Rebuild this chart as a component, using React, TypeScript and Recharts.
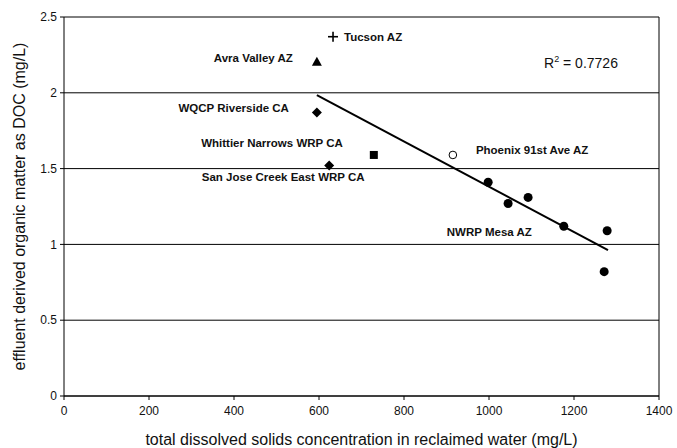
import React from 'react';
import {
  ScatterChart,
  Scatter,
  XAxis,
  YAxis,
  CartesianGrid,
  ReferenceLine,
  LabelList,
} from 'recharts';

// total dissolved solids (mg/L) vs effluent DOC (mg/L)
const tucson = [{ tds: 633, doc: 2.37 }];
const avraValley = [{ tds: 595, doc: 2.205 }];
const wqcpRiverside = [{ tds: 595, doc: 1.87 }];
const whittierNarrows = [{ tds: 729, doc: 1.59 }];
const sanJoseCreek = [{ tds: 624, doc: 1.52 }];
const phoenix91st = [{ tds: 915, doc: 1.59 }];
const mesaTds = [998, 1045, 1092, 1176, 1278, 1271];
const mesaDoc = [1.41, 1.27, 1.31, 1.12, 1.09, 0.82];
const trendTds = [595, 1280];
const trendDoc = [1.985, 0.963];

const xTicks = [0, 200, 400, 600, 800, 1000, 1200, 1400];
const yTicks = [0, 0.5, 1, 1.5, 2, 2.5];
const rSquared = '0.7726';

const mesa = mesaTds.map((tds, i) => ({ tds, doc: mesaDoc[i] }));
const trend = trendTds.map((tds, i) => ({ tds, doc: trendDoc[i] }));

const FONT = '"Liberation Sans", Arial, sans-serif';

type Kind = 'plus' | 'triangle' | 'diamond' | 'square' | 'circle' | 'open';

const marker = (kind: Kind) => (props: any) => {
  const { cx, cy } = props;
  if (cx == null || cy == null) return <g />;
  switch (kind) {
    case 'plus':
      return (
        <g stroke="#000" strokeWidth={1.6}>
          <line x1={cx - 5} y1={cy} x2={cx + 5} y2={cy} />
          <line x1={cx} y1={cy - 5} x2={cx} y2={cy + 5} />
        </g>
      );
    case 'triangle':
      return <polygon points={`${cx},${cy - 5} ${cx + 5},${cy + 4} ${cx - 5},${cy + 4}`} fill="#000" />;
    case 'diamond':
      return <polygon points={`${cx},${cy - 5} ${cx + 5},${cy} ${cx},${cy + 5} ${cx - 5},${cy}`} fill="#000" />;
    case 'square':
      return <rect x={cx - 4} y={cy - 4} width={8} height={8} fill="#000" />;
    case 'open':
      return <circle cx={cx} cy={cy} r={3.8} fill="#fff" stroke="#000" strokeWidth={1} />;
    default:
      return <circle cx={cx} cy={cy} r={4.5} fill="#000" />;
  }
};

const siteLabel = (text: string, dx: number, dy: number, anchor: string, index = 0) => (props: any) => {
  const { x, y, width, height } = props;
  if (props.index !== index) return null;
  const cx = x + (width || 0) / 2;
  const cy = y + (height || 0) / 2;
  return (
    <text
      x={cx + dx}
      y={cy + dy}
      textAnchor={anchor}
      dominantBaseline="central"
      fontFamily={FONT}
      fontSize={11.5}
      fontWeight="bold"
      fill="#111"
    >
      {text}
    </text>
  );
};

const App: React.FC = () => {
  return (
    <div style={{ position: 'absolute', left: 0, top: 0, width: 677, height: 448, background: '#fff' }}>
      <ScatterChart width={677} height={448} margin={{ top: 17, right: 18, bottom: 0, left: 0 }}>
        <CartesianGrid vertical={false} stroke="#000" strokeWidth={1} />
        <XAxis
          type="number"
          dataKey="tds"
          domain={[0, 1400]}
          ticks={xTicks}
          height={52}
          tickSize={4}
          tickMargin={6}
          stroke="#000"
          tick={{ fill: '#111', fontSize: 12, fontFamily: FONT }}
          label={{
            value: 'total dissolved solids concentration in reclaimed water (mg/L)',
            position: 'insideBottom',
            offset: 3,
            style: { fill: '#111', fontSize: 16, fontFamily: FONT },
          }}
        />
        <YAxis
          type="number"
          dataKey="doc"
          domain={[0, 2.5]}
          ticks={yTicks}
          width={64}
          tickSize={4}
          tickMargin={3}
          stroke="#000"
          tick={{ fill: '#111', fontSize: 12, fontFamily: FONT }}
          label={{
            value: 'effluent derived organic matter as DOC (mg/L)',
            angle: -90,
            position: 'insideLeft',
            offset: 19,
            style: { textAnchor: 'middle', fill: '#111', fontSize: 16, fontFamily: FONT },
          }}
        />
        <ReferenceLine x={1400} stroke="#000" strokeWidth={1} />
        <Scatter data={trend} line={{ stroke: '#000', strokeWidth: 2 }} shape={() => <g />} isAnimationActive={false} />
        <Scatter data={tucson} shape={marker('plus')} isAnimationActive={false}>
          <LabelList dataKey="doc" content={siteLabel('Tucson AZ', 11, 0, 'start')} />
        </Scatter>
        <Scatter data={avraValley} shape={marker('triangle')} isAnimationActive={false}>
          <LabelList dataKey="doc" content={siteLabel('Avra Valley AZ', -24, -4, 'end')} />
        </Scatter>
        <Scatter data={wqcpRiverside} shape={marker('diamond')} isAnimationActive={false}>
          <LabelList dataKey="doc" content={siteLabel('WQCP Riverside CA', -28, -5, 'end')} />
        </Scatter>
        <Scatter data={whittierNarrows} shape={marker('square')} isAnimationActive={false}>
          <LabelList dataKey="doc" content={siteLabel('Whittier Narrows WRP CA', -31, -12, 'end')} />
        </Scatter>
        <Scatter data={sanJoseCreek} shape={marker('diamond')} isAnimationActive={false}>
          <LabelList dataKey="doc" content={siteLabel('San Jose Creek East WRP CA', -46, 11, 'middle')} />
        </Scatter>
        <Scatter data={phoenix91st} shape={marker('open')} isAnimationActive={false}>
          <LabelList dataKey="doc" content={siteLabel('Phoenix 91st Ave AZ', 23, -5, 'start')} />
        </Scatter>
        <Scatter data={mesa} shape={marker('circle')} isAnimationActive={false}>
          <LabelList dataKey="doc" content={siteLabel('NWRP Mesa AZ', -32, 6, 'end', 3)} />
        </Scatter>
      </ScatterChart>
      <div
        style={{
          position: 'absolute',
          left: 544,
          top: 54,
          fontFamily: FONT,
          fontSize: 14,
          color: '#111',
          whiteSpace: 'nowrap',
        }}
      >
        R<sup style={{ fontSize: 9 }}>2</sup> = {rSquared}
      </div>
    </div>
  );
};

export default App;
